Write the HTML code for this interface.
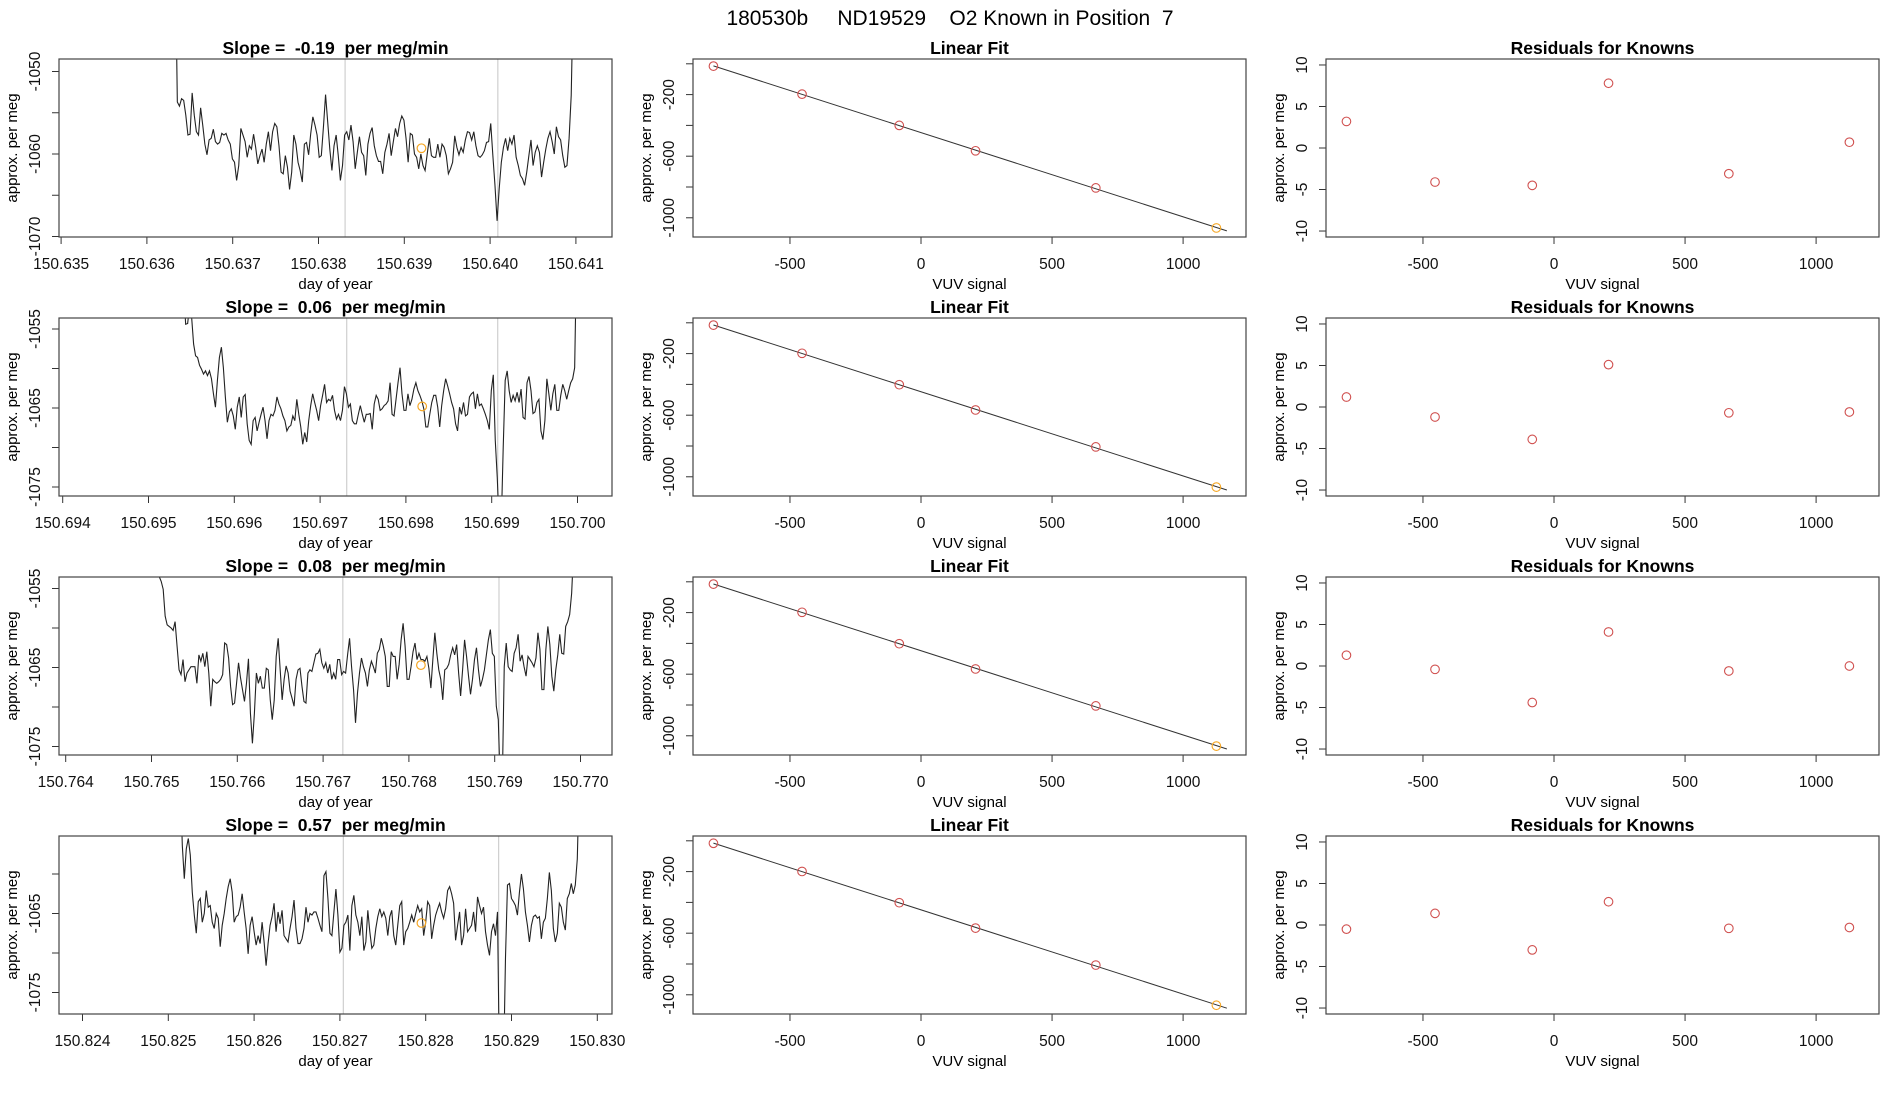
<!DOCTYPE html>
<html><head><meta charset="utf-8"><title>180530b ND19529</title>
<style>
html,body{margin:0;padding:0;background:#fff;}
svg{display:block;font-family:"Liberation Sans",Arial,sans-serif;}
</style></head>
<body>
<svg id="fig" width="1900" height="1100" viewBox="0 0 1900 1100" xmlns="http://www.w3.org/2000/svg">
<rect x="0" y="0" width="1900" height="1100" fill="#fff"/>
<text x="950" y="25" text-anchor="middle" font-size="21" style="white-space:pre">180530b     ND19529    O2 Known in Position  7</text>
</svg>
<script>
// ---------- data ----------
const slopeLabels = ["-0.19", "0.06", "0.08", "0.57"];
const tsStart = [150.63633, 150.69541, 150.76509, 150.82514];
const tsEnd = [150.64097, 150.69999, 150.76992, 150.82979];
const grayLines = [[150.63831, 150.64009], [150.69731, 150.69907], [150.76723, 150.76905], [150.82704, 150.82885]];
const orangeT = [150.63920, 150.69819, 150.76814, 150.82795];
const orangeV = [-1059.3, -1064.8, -1064.7, -1066.2];
const xTickLabels = [
 ["150.635","150.636","150.637","150.638","150.639","150.640","150.641"],
 ["150.694","150.695","150.696","150.697","150.698","150.699","150.700"],
 ["150.764","150.765","150.766","150.767","150.768","150.769","150.770"],
 ["150.824","150.825","150.826","150.827","150.828","150.829","150.830"]];
const yTicks = [[-1050,-1055,-1060,-1065,-1070],[-1055,-1060,-1065,-1070,-1075],[-1055,-1060,-1065,-1070,-1075],[-1060,-1065,-1070,-1075]];
const yTickLabeled = [[-1050,-1060,-1070],[-1055,-1065,-1075],[-1055,-1065,-1075],[-1065,-1075]];

const series1 = [-1035,-1053.7,-1054.2,-1053.3,-1053.5,-1055.3,-1057.7,-1057.6,-1052.6,-1055.3,-1057.3,-1057.7,-1054.4,-1056.5,-1058.8,-1060.1,-1058.3,-1058.1,-1057.0,-1058.5,-1058.8,-1058.6,-1057.5,-1057.7,-1057.5,-1058.3,-1058.8,-1060.6,-1061.0,-1063.2,-1061.4,-1056.9,-1057.7,-1058.5,-1060.4,-1059.0,-1059.4,-1057.6,-1059.2,-1061.2,-1060.2,-1059.4,-1061.0,-1058.8,-1057.3,-1059.6,-1057.3,-1056.3,-1056.7,-1059.0,-1062.2,-1062.4,-1060.2,-1061.6,-1064.3,-1062.2,-1057.7,-1058.8,-1061.0,-1062.0,-1063.4,-1058.8,-1058.6,-1060.1,-1057.5,-1055.5,-1056.5,-1057.7,-1060.4,-1060.2,-1056.7,-1052.8,-1056.1,-1059.4,-1062.0,-1059.0,-1057.7,-1060.2,-1063.2,-1061.4,-1057.7,-1057.3,-1058.3,-1056.5,-1058.5,-1061.8,-1059.8,-1057.9,-1059.8,-1060.2,-1062.6,-1058.8,-1057.5,-1056.8,-1059.0,-1060.2,-1060.9,-1060.9,-1062.4,-1059.8,-1058.8,-1057.5,-1060.2,-1058.5,-1056.9,-1057.9,-1056.3,-1055.4,-1055.9,-1058.1,-1061.0,-1057.5,-1057.7,-1060.0,-1060.4,-1061.8,-1060.0,-1061.4,-1062.0,-1060.0,-1058.1,-1060.2,-1060.4,-1060.4,-1058.8,-1060.4,-1058.8,-1059.2,-1060.2,-1062.4,-1061.8,-1061.0,-1057.8,-1059.2,-1060.1,-1059.2,-1059.8,-1058.3,-1057.3,-1057.4,-1058.3,-1057.3,-1059.0,-1060.2,-1060.4,-1060.1,-1059.6,-1058.6,-1058.5,-1056.3,-1060.2,-1063.8,-1068.1,-1064.2,-1061.0,-1059.2,-1058.1,-1059.6,-1058.1,-1058.8,-1057.7,-1060.4,-1061.4,-1062.6,-1063.0,-1063.8,-1062.2,-1060.2,-1058.3,-1061.4,-1059.8,-1059.0,-1059.8,-1062.8,-1061.0,-1059.4,-1058.1,-1057.3,-1058.5,-1060.0,-1056.7,-1057.9,-1058.3,-1060.2,-1061.6,-1061.4,-1058.1,-1052.9,-1040];

const series2 = [-1050,-1054.4,-1054.3,-1052,-1053.5,-1056.9,-1058.4,-1058.6,-1059.6,-1060.1,-1060.7,-1060.3,-1060.9,-1060.3,-1061.3,-1063.2,-1064.9,-1061.5,-1058.6,-1057.3,-1059.9,-1063.6,-1066.8,-1065.5,-1065.1,-1066.0,-1067.7,-1064.9,-1063.6,-1066.2,-1063.6,-1063.3,-1067.0,-1069.1,-1069.6,-1066.6,-1066.2,-1067.9,-1066.8,-1065.8,-1064.9,-1066.6,-1068.9,-1066.6,-1065.8,-1066.0,-1065.3,-1063.6,-1064.5,-1065.1,-1066.0,-1066.6,-1067.9,-1067.4,-1067.2,-1066.0,-1066.6,-1063.9,-1065.8,-1067.4,-1069.6,-1068.1,-1069.3,-1066.6,-1064.7,-1063.2,-1064.3,-1065.3,-1066.6,-1064.7,-1063.4,-1062.0,-1064.3,-1063.9,-1064.1,-1063.4,-1065.3,-1066.4,-1065.8,-1066.6,-1065.3,-1062.3,-1063.2,-1064.9,-1064.5,-1066.6,-1067.0,-1067.0,-1065.8,-1064.7,-1065.8,-1066.8,-1065.8,-1065.8,-1065.7,-1067.7,-1064.5,-1063.4,-1063.9,-1065.3,-1065.1,-1064.7,-1064.5,-1064.1,-1061.8,-1065.8,-1066.0,-1063.9,-1061.8,-1059.9,-1063.2,-1065.3,-1065.3,-1063.2,-1064.7,-1063.9,-1062.6,-1061.8,-1062.8,-1063.4,-1064.1,-1065.1,-1067.4,-1067.4,-1065.8,-1064.3,-1063.4,-1063.4,-1064.9,-1067.4,-1064.7,-1062.8,-1061.3,-1062.2,-1063.2,-1064.3,-1065.1,-1067.0,-1067.9,-1064.9,-1065.8,-1064.3,-1066.0,-1065.8,-1063.6,-1063.2,-1063.0,-1065.1,-1063.2,-1064.7,-1064.5,-1065.1,-1065.8,-1066.6,-1067.7,-1062.8,-1060.8,-1069.1,-1073.8,-1080,-1080,-1070.0,-1061.5,-1060.3,-1062.8,-1064.3,-1063.4,-1064.1,-1063.0,-1064.3,-1062.6,-1066.2,-1066.4,-1061.8,-1061.0,-1062.8,-1065.7,-1065.5,-1064.3,-1063.9,-1067.9,-1069.0,-1066.6,-1061.3,-1063.2,-1065.3,-1063.2,-1062.0,-1065.3,-1065.3,-1063.4,-1062.0,-1062.8,-1063.9,-1062.8,-1061.8,-1061.3,-1059.9,-1045];

const series3 = [-1053.5,-1054.1,-1055.1,-1058.5,-1059.6,-1059.8,-1060.0,-1060.3,-1059.2,-1062.3,-1065.3,-1065.9,-1064.0,-1066.8,-1065.7,-1065.3,-1064.9,-1064.9,-1064.9,-1067.0,-1063.4,-1064.2,-1063.2,-1064.9,-1063.0,-1065.7,-1069.9,-1066.5,-1066.8,-1067.0,-1066.8,-1066.5,-1065.9,-1061.9,-1062.1,-1063.8,-1067.4,-1069.7,-1069.5,-1067.0,-1064.4,-1066.3,-1067.8,-1069.3,-1067.0,-1063.9,-1070.8,-1074.6,-1070.8,-1065.7,-1067.0,-1066.1,-1067.6,-1067.6,-1065.1,-1065.3,-1069.1,-1071.6,-1069.1,-1063.6,-1061.3,-1065.3,-1069.1,-1066.5,-1064.8,-1065.7,-1068.0,-1068.9,-1069.9,-1066.5,-1065.3,-1065.1,-1067.4,-1069.3,-1069.5,-1065.7,-1065.3,-1065.5,-1064.4,-1063.3,-1063.2,-1062.7,-1064.4,-1065.1,-1064.4,-1065.7,-1064.6,-1066.5,-1065.7,-1066.5,-1064.0,-1064.0,-1065.9,-1065.5,-1065.7,-1063.4,-1061.3,-1064.9,-1067.8,-1072.0,-1068.2,-1065.7,-1063.8,-1064.9,-1065.7,-1067.4,-1065.3,-1064.2,-1064.9,-1065.7,-1063.2,-1062.7,-1061.3,-1062.3,-1063.6,-1067.4,-1067.4,-1063.0,-1063.6,-1063.6,-1066.5,-1064.6,-1061.5,-1059.4,-1062.3,-1066.5,-1066.5,-1064.9,-1063.0,-1061.9,-1064.0,-1063.2,-1064.0,-1064.0,-1064.2,-1063.6,-1065.1,-1067.6,-1064.0,-1060.6,-1063.2,-1065.3,-1066.5,-1069.1,-1065.3,-1065.1,-1064.6,-1063.4,-1062.5,-1063.4,-1062.1,-1065.7,-1068.6,-1065.3,-1061.5,-1063.6,-1066.1,-1068.4,-1066.5,-1064.0,-1062.5,-1065.3,-1067.4,-1066.5,-1065.3,-1063.4,-1061.5,-1060.2,-1063.2,-1063.6,-1069.9,-1071.6,-1080,-1080,-1064.9,-1061.9,-1064.9,-1065.3,-1065.5,-1063.2,-1062.5,-1060.8,-1064.2,-1063.4,-1064.9,-1066.1,-1063.6,-1064.0,-1064.4,-1064.9,-1063.8,-1060.6,-1062.7,-1067.8,-1067.8,-1062.7,-1059.8,-1062.1,-1066.1,-1068.0,-1065.3,-1063.4,-1060.8,-1063.2,-1063.3,-1059.8,-1059.2,-1058.3,-1055.6,-1050];

const series4 = [-1048,-1056.4,-1060.6,-1056.8,-1055.5,-1057.6,-1062.3,-1065.2,-1067.5,-1063.5,-1063.1,-1066.1,-1065.0,-1062.1,-1064.2,-1064.0,-1066.1,-1066.9,-1065.0,-1065.6,-1069.2,-1066.5,-1065.0,-1063.1,-1061.6,-1060.6,-1062.3,-1066.1,-1065.4,-1065.2,-1064.2,-1062.5,-1064.8,-1066.9,-1070.1,-1066.5,-1065.4,-1067.3,-1069.0,-1067.8,-1068.8,-1066.1,-1068.6,-1071.6,-1068.8,-1066.5,-1065.4,-1063.7,-1067.3,-1064.8,-1066.3,-1064.6,-1067.8,-1068.2,-1068.6,-1066.9,-1065.4,-1063.3,-1066.9,-1068.8,-1068.8,-1068.2,-1066.9,-1064.2,-1066.1,-1065.0,-1065.2,-1064.8,-1064.8,-1065.6,-1066.5,-1067.3,-1060.2,-1059.7,-1063.1,-1067.5,-1067.8,-1064.8,-1061.9,-1065.2,-1069.9,-1069.4,-1066.5,-1066.1,-1065.2,-1069.7,-1064.0,-1062.7,-1065.2,-1066.1,-1067.8,-1065.4,-1069.7,-1068.6,-1064.6,-1067.3,-1069.4,-1069.0,-1066.9,-1065.4,-1064.4,-1065.4,-1064.8,-1065.6,-1067.8,-1065.4,-1064.6,-1067.8,-1069.0,-1066.5,-1064.0,-1063.5,-1069.0,-1067.3,-1066.9,-1066.1,-1065.2,-1066.1,-1065.0,-1064.0,-1064.8,-1064.4,-1067.8,-1066.1,-1063.5,-1064.0,-1068.2,-1066.5,-1065.2,-1064.4,-1063.7,-1064.8,-1065.6,-1064.4,-1062.1,-1061.6,-1062.5,-1063.7,-1068.4,-1066.5,-1064.8,-1069.0,-1067.8,-1064.4,-1067.3,-1066.9,-1066.5,-1064.8,-1067.3,-1062.9,-1064.0,-1065.0,-1064.2,-1067.3,-1069.0,-1070.3,-1067.3,-1066.3,-1067.8,-1064.8,-1085,-1085,-1085,-1070.7,-1061.4,-1061.2,-1063.1,-1063.5,-1064.0,-1065.2,-1062.3,-1060.0,-1061.9,-1064.8,-1066.5,-1068.6,-1066.5,-1065.4,-1065.2,-1065.6,-1065.4,-1068.2,-1066.1,-1065.6,-1063.1,-1059.8,-1062.1,-1066.9,-1068.6,-1067.5,-1063.7,-1064.2,-1066.1,-1067.1,-1063.1,-1062.5,-1061.2,-1062.5,-1061.4,-1058.1,-1048];

const allSeries = [series1, series2, series3, series4];

// knowns (linear fit) data
const vuvSignal = [-792, -454, -83, 208, 667, 1127];
const knownValues = [
 [-15, -197, -400, -565, -806, -1066],
 [-15, -198, -402, -566, -806, -1067],
 [-15, -198, -402, -566, -806, -1067],
 [-16, -199, -402, -567, -807, -1068]];
const residuals = [
 [3.2, -4.1, -4.5, 7.8, -3.1, 0.7],
 [1.2, -1.2, -3.9, 5.1, -0.7, -0.6],
 [1.3, -0.4, -4.4, 4.1, -0.6, 0.0],
 [-0.5, 1.4, -3.0, 2.8, -0.4, -0.3]];
const vuvTicks = [-500, 0, 500, 1000];
const fitYTicks = [0, -200, -400, -600, -800, -1000];
const fitYLabeled = [-200, -600, -1000];
const resYTicks = [10, 5, 0, -5, -10];

// ---------- drawing ----------
const NS = "http://www.w3.org/2000/svg";
const svg = document.getElementById("fig");
function el(tag, attrs, parent) {
  const e = document.createElementNS(NS, tag);
  for (const k in attrs) e.setAttribute(k, attrs[k]);
  (parent || svg).appendChild(e);
  return e;
}
function txt(s, attrs, parent) { const e = el("text", attrs, parent); e.textContent = s; return e; }

const colL = [59, 612], colM = [693, 1246], colR = [1326, 1879];
const leftXRef = [[150.637, 232.7], [150.696, 234.3], [150.766, 237.3], [150.825, 168.3]];
const PPD = 85800;
const leftYRef = [[-1060, 154, 8.25], [-1065, 408, 7.9], [-1065, 667.5, 7.9], [-1065, 913.5, 7.9]];
const fitXDom = [-870, 1240];
const fitYDom = [31.2, -1124.8];
const resYDom = [10.72, -10.72];
const TICK_FONT = 15.5;

function frame(g, x0, x1, y0, y1, name) {
  const r = el("rect", {x: x0, y: y0, width: x1 - x0, height: y1 - y0, fill: "none", stroke: "#444", "stroke-width": 1.2}, g);
  
  
}
function xTick(g, px, y1, label) {
  el("line", {x1: px, x2: px, y1: y1, y2: y1 + 7, stroke: "#333", "stroke-width": 1}, g);
  if (label !== null) {
    const t = txt(label, {x: px, y: y1 + 32, "text-anchor": "middle", "font-size": TICK_FONT, fill: "#111"}, g);
    
    
  }
}
function yTick(g, x0, py, label) {
  el("line", {x1: x0, x2: x0 - 7, y1: py, y2: py, stroke: "#333", "stroke-width": 1}, g);
  if (label !== null) {
    const t = txt(label, {x: 0, y: 0, transform: `translate(${x0 - 19},${py}) rotate(-90)`, "text-anchor": "middle", "font-size": TICK_FONT, fill: "#111"}, g);
    
    
  }
}
function axisLabels(g, x0, x1, y0, y1, title, xlab, ylab) {
  const tt = txt(title, {x: (x0 + x1) / 2, y: y0 - 5, "text-anchor": "middle", "font-size": 17.5, "font-weight": "bold", style: "white-space:pre"}, g);
  
  
  const xl = txt(xlab, {x: (x0 + x1) / 2, y: y1 + 52, "text-anchor": "middle", "font-size": 15}, g);
  
  
  const yl = txt(ylab, {x: 0, y: 0, transform: `translate(${x0 - 42},${(y0 + y1) / 2}) rotate(-90)`, "text-anchor": "middle", "font-size": 15}, g);
  
  
}

for (let r = 0; r < 4; r++) {
  const y0 = 59 + 259 * r, y1 = 237 + 259 * r;

  // ---- left: time series ----
  const gL = el("g", {});
  
  
  const [tRef, pRef] = leftXRef[r];
  const xs = t => pRef + (t - tRef) * PPD;
  const [vRef, pvRef, ppu] = leftYRef[r];
  const ys = v => pvRef - (v - vRef) * ppu;
  const cp = el("clipPath", {id: "clip" + r}, gL);
  el("rect", {x: colL[0], y: y0, width: colL[1] - colL[0], height: y1 - y0}, cp);
  grayLines[r].forEach(t => {
    const l = el("line", {x1: xs(t), x2: xs(t), y1: y0, y2: y1, stroke: "#cfcfcf", "stroke-width": 1.2}, gL);
    
    
  });
  const s = allSeries[r];
  const dt = (tsEnd[r] - tsStart[r]) / (s.length - 1);
  let d = "";
  s.forEach((v, i) => { d += (i ? "L" : "M") + xs(tsStart[r] + i * dt).toFixed(2) + "," + ys(v).toFixed(2); });
  const path = el("path", {d: d, fill: "none", stroke: "#222", "stroke-width": 1.1, "clip-path": `url(#clip${r})`}, gL);
  
  
  const oc = el("circle", {cx: xs(orangeT[r]), cy: ys(orangeV[r]), r: 4.3, fill: "none", stroke: "#F5A623", "stroke-width": 1.2}, gL);
  
  
  xTickLabels[r].forEach(lab => xTick(gL, xs(parseFloat(lab)), y1, lab));
  yTicks[r].forEach(v => yTick(gL, colL[0], ys(v), yTickLabeled[r].includes(v) ? String(v) : null));
  frame(gL, colL[0], colL[1], y0, y1, 'plot-frame');
  axisLabels(gL, colL[0], colL[1], y0, y1, "Slope =  " + slopeLabels[r] + "  per meg/min", "day of year", "approx. per meg");

  // ---- middle: linear fit ----
  const gM = el("g", {});
  
  
  const fx = v => colM[0] + (v - fitXDom[0]) / (fitXDom[1] - fitXDom[0]) * (colM[1] - colM[0]);
  const fy = v => y0 + (fitYDom[0] - v) / (fitYDom[0] - fitYDom[1]) * (y1 - y0);
  const kv = knownValues[r];
  const n = vuvSignal.length;
  const mx = vuvSignal.reduce((a, b) => a + b, 0) / n, my = kv.reduce((a, b) => a + b, 0) / n;
  let sxy = 0, sxx = 0;
  for (let i = 0; i < n; i++) { sxy += (vuvSignal[i] - mx) * (kv[i] - my); sxx += (vuvSignal[i] - mx) ** 2; }
  const b = sxy / sxx, a = my - b * mx;
  const xa = vuvSignal[0], xb = vuvSignal[n - 1] + 40;
  const fl = el("line", {x1: fx(xa), y1: fy(a + b * xa), x2: fx(xb), y2: fy(a + b * xb), stroke: "#333", "stroke-width": 1}, gM);
  
  
  for (let i = 0; i < n; i++) {
    const c = el("circle", {cx: fx(vuvSignal[i]), cy: fy(kv[i]), r: 4.3, fill: "none", stroke: i === n - 1 ? "#F5A623" : "#D0504F", "stroke-width": 1.1}, gM);
    
    
  }
  vuvTicks.forEach(v => xTick(gM, fx(v), y1, String(v)));
  fitYTicks.forEach(v => yTick(gM, colM[0], fy(v), fitYLabeled.includes(v) ? String(v) : null));
  frame(gM, colM[0], colM[1], y0, y1, 'plot-frame');
  axisLabels(gM, colM[0], colM[1], y0, y1, "Linear Fit", "VUV signal", "approx. per meg");

  // ---- right: residuals ----
  const gR = el("g", {});
  
  
  const rx = v => colR[0] + (v - fitXDom[0]) / (fitXDom[1] - fitXDom[0]) * (colR[1] - colR[0]);
  const ry = v => y0 + (resYDom[0] - v) / (resYDom[0] - resYDom[1]) * (y1 - y0);
  residuals[r].forEach((v, i) => {
    const c = el("circle", {cx: rx(vuvSignal[i]), cy: ry(v), r: 4.3, fill: "none", stroke: "#D0504F", "stroke-width": 1.1}, gR);
    
    
  });
  vuvTicks.forEach(v => xTick(gR, rx(v), y1, String(v)));
  resYTicks.forEach(v => yTick(gR, colR[0], ry(v), String(v)));
  frame(gR, colR[0], colR[1], y0, y1, 'plot-frame');
  axisLabels(gR, colR[0], colR[1], y0, y1, "Residuals for Knowns", "VUV signal", "approx. per meg");
}
</script>
</body></html>
